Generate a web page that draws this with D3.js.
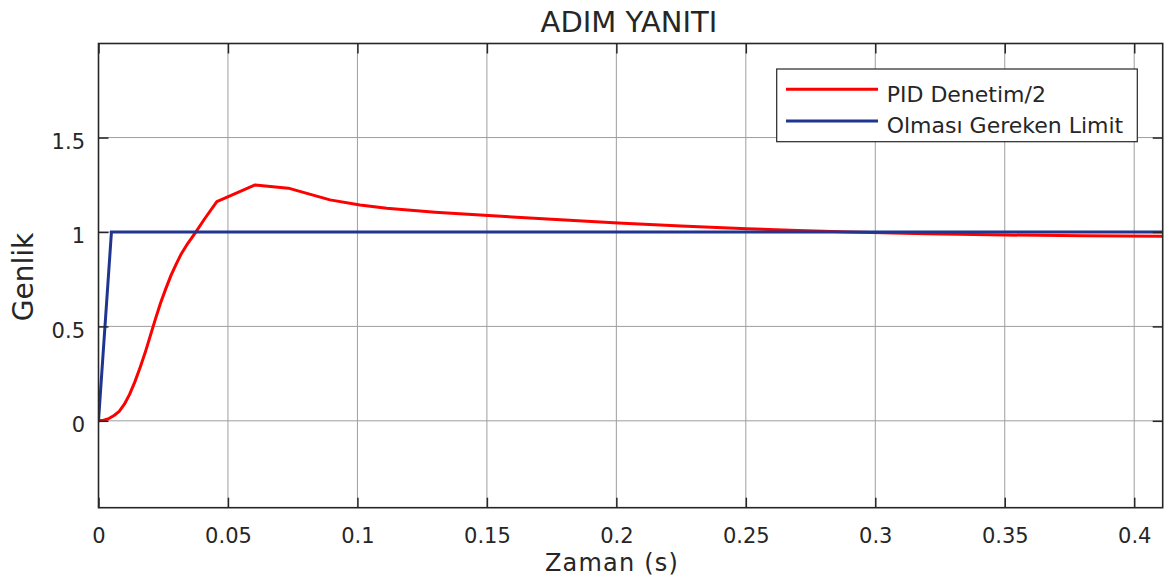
<!DOCTYPE html>
<html>
<head>
<meta charset="utf-8">
<script src="https://cdn.jsdelivr.net/npm/d3@7"></script>
<style>
  html, body { margin: 0; padding: 0; background: #fff; }
  svg { display: block; }
  text { font-family: "DejaVu Sans", sans-serif; fill: #262626; }
</style>
</head>
<body>
<svg id="chart" width="1176" height="583"></svg>
<script>
// ---- data ----
const pidTime = [0, 0.002, 0.004, 0.006, 0.008, 0.010, 0.012, 0.014, 0.016, 0.018, 0.020, 0.022,
                 0.024, 0.026, 0.028, 0.030, 0.032, 0.0345, 0.0373, 0.041, 0.0457, 0.0605, 0.0733,
                 0.0894, 0.101, 0.1113, 0.13, 0.1506, 0.175, 0.2007, 0.225, 0.2504, 0.27, 0.29,
                 0.32, 0.35, 0.38, 0.411];
const pidValue = [0, 0.003, 0.012, 0.028, 0.05, 0.088, 0.14, 0.205, 0.28, 0.36, 0.45, 0.54,
                  0.625, 0.7, 0.77, 0.83, 0.885, 0.94, 0.994, 1.07, 1.161, 1.249, 1.232,
                  1.17, 1.143, 1.126, 1.105, 1.087, 1.067, 1.047, 1.031, 1.017, 1.008, 1.0,
                  0.99, 0.984, 0.98, 0.978];
const limitTime = [0, 0.005, 0.411];
const limitValue = [0, 1, 1];
const xTicks = [0, 0.05, 0.1, 0.15, 0.2, 0.25, 0.3, 0.35, 0.4];
const yTicks = [0, 0.5, 1, 1.5];
const seriesNames = ["PID Denetim/2", "Olması Gereken Limit"];
const seriesColors = ["#ff0000", "#1f3590"];
const titleText = "ADIM YANITI";
const xLabelText = "Zaman (s)";
const yLabelText = "Genlik";

// ---- layout ----
const L = 98.5, R = 1162.7, T = 43.5, B = 507.7;
const svg = d3.select("#chart");
const x = d3.scaleLinear().domain([0, 0.411]).range([L, R]);
const y = d3.scaleLinear().domain([-0.46, 1.998]).range([B, T]);

// grid
const grid = svg.append("g");
grid.selectAll("line.gx").data(xTicks).join("line")
  .attr("x1", d => x(d)).attr("x2", d => x(d)).attr("y1", T).attr("y2", B)
  .attr("stroke", "#9e9e9e").attr("stroke-width", 1);
grid.selectAll("line.gy").data(yTicks).join("line")
  .attr("x1", L).attr("x2", R).attr("y1", d => y(d)).attr("y2", d => y(d))
  .attr("stroke", "#9e9e9e").attr("stroke-width", 1);

// lines
const pidData = pidTime.map((t, i) => [t, pidValue[i]]);
const limData = limitTime.map((t, i) => [t, limitValue[i]]);
const lineLin = d3.line().x(d => x(d[0])).y(d => y(d[1]));
svg.append("clipPath").attr("id", "clip").append("rect")
  .attr("x", L).attr("y", T).attr("width", R - L).attr("height", B - T);
svg.append("path").datum(pidData).attr("d", lineLin)
  .attr("fill", "none").attr("stroke", seriesColors[0]).attr("stroke-width", 3)
  .attr("stroke-linejoin", "round").attr("clip-path", "url(#clip)");
svg.append("path").datum(limData).attr("d", lineLin)
  .attr("fill", "none").attr("stroke", seriesColors[1]).attr("stroke-width", 3)
  .attr("clip-path", "url(#clip)");

// axes
const tk = 10;
const axB = svg.append("g").attr("transform", `translate(0,${B})`)
  .call(d3.axisBottom(x).tickValues(xTicks).tickSize(-tk).tickFormat(d => String(d)));
axB.selectAll("text").attr("y", 0).attr("dy", 0).attr("transform", "translate(0,35.5)")
  .style("font-size", "21px");
const axT = svg.append("g").attr("transform", `translate(0,${T})`)
  .call(d3.axisTop(x).tickValues(xTicks).tickSize(-tk).tickFormat(""));
const axLft = svg.append("g").attr("transform", `translate(${L},0)`)
  .call(d3.axisLeft(y).tickValues(yTicks).tickSize(-tk).tickFormat(d => String(d)));
axLft.selectAll("text").attr("x", -13.5).attr("dy", 0).attr("transform", "translate(0,11)")
  .style("font-size", "21px");
const axRt = svg.append("g").attr("transform", `translate(${R},0)`)
  .call(d3.axisRight(y).tickValues(yTicks).tickSize(-tk).tickFormat(""));
[axB, axT, axLft, axRt].forEach(a => {
  a.select(".domain").remove();
  a.selectAll("line").attr("stroke", "#262626").attr("stroke-width", 1.5);
  a.selectAll("text").attr("fill", "#262626").style("font-family", "DejaVu Sans");
});
// box
svg.append("rect").attr("x", L).attr("y", T).attr("width", R - L).attr("height", B - T)
  .attr("fill", "none").attr("stroke", "#262626").attr("stroke-width", 1.6);

// title & labels
svg.append("text").attr("x", 629).attr("y", 31.5).attr("text-anchor", "middle")
  .style("font-size", "29px").attr("fill", "#000").text(titleText);
svg.append("text").attr("x", 612).attr("y", 571).attr("text-anchor", "middle")
  .style("font-size", "24px").style("letter-spacing", "1.2px").text(xLabelText);
svg.append("text").attr("transform", "translate(33,277) rotate(-90)").attr("text-anchor", "middle")
  .style("font-size", "28px").text(yLabelText);

// legend
const lg = svg.append("g");
lg.append("rect").attr("x", 776.7).attr("y", 69).attr("width", 360.6).attr("height", 72.7)
  .attr("fill", "#fff").attr("stroke", "#262626").attr("stroke-width", 1.2);
const legY = [89.3, 121];
seriesNames.forEach((n, i) => {
  lg.append("line").attr("x1", 786).attr("x2", 878).attr("y1", legY[i]).attr("y2", legY[i])
    .attr("stroke", seriesColors[i]).attr("stroke-width", 3);
  lg.append("text").attr("x", 886.7).attr("y", legY[i] + 12.4)
    .style("font-size", "22px").text(n);
});
</script>
</body>
</html>
